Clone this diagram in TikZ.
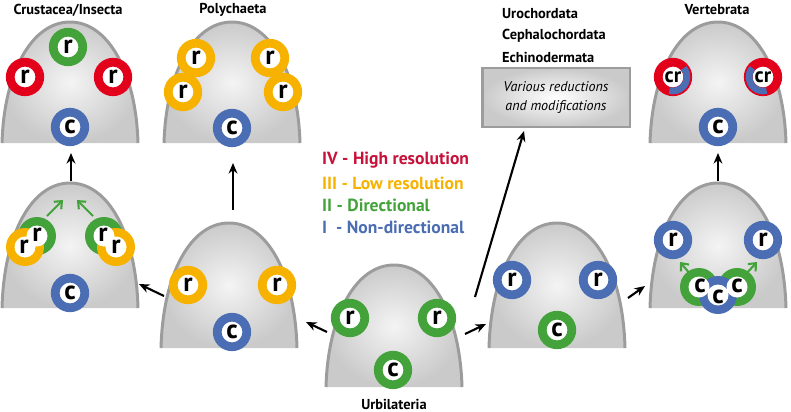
\documentclass[tikz,border=0pt]{standalone}
\usepackage{fontspec}
\setmainfont{PT Sans}
\usetikzlibrary{arrows.meta}

\definecolor{cred}{HTML}{E2001A}
\definecolor{cdred}{HTML}{C8103A}
\definecolor{cyellow}{HTML}{F7B200}
\definecolor{cgreen}{HTML}{43A33A}
\definecolor{cblue}{HTML}{4A6DB3}
\definecolor{domeline}{HTML}{9C9C9C}
\definecolor{domein}{HTML}{F4F4F4}
\definecolor{domeout}{HTML}{CACACA}

% outline of one body: centre x, apex y, bottom y (pixel units)
\newcommand{\domepath}[3]{({#1-68},#3) .. controls ({#1-66},{#2+50}) and ({#1-38},#2) .. (#1,#2) .. controls ({#1+38},#2) and ({#1+66},{#2+50}) .. ({#1+68},#3)}

\tikzset{
  sense/.style={circle, draw=#1, fill=white, line width=5pt, minimum size=0.59cm,
    inner sep=0pt, font=\fontsize{15}{15}\selectfont\bfseries},
  letter/.style={inner sep=0pt, font=\fontsize{15}{15}\selectfont\bfseries},
  taxon/.style={font=\fontsize{8.2}{10}\selectfont\bfseries},
  legend/.style={anchor=west, font=\fontsize{10}{12}\selectfont\bfseries},
  evo/.style={-{Stealth[length=6pt,width=5pt]}, line width=1.2pt},
  turn/.style={-{Straight Barb[length=3.5pt,width=6pt]}, cgreen, line width=1.2pt},
}

\begin{document}
\begin{tikzpicture}[x=0.02cm, y=-0.02cm]
  \useasboundingbox (0,0) rectangle (791,412);

  % bodies
  \foreach \cx/\ap/\bt in {70/22/143, 232/22/143, 70/183/308, 229/223/348,
                          394/265/387, 557/223/348, 718/183/308, 718/22/143} {
    \shade[inner color=domein, outer color=domeout] \domepath{\cx}{\ap}{\bt} -- cycle;
    \draw[domeline, line width=1.7pt] \domepath{\cx}{\ap}{\bt};
  }

  % Crustacea/Insecta
  \node[taxon] (crus) at (68,10) {Crustacea/Insecta};
  \node[sense=cgreen] (crusr) at (68,47) {r};
  \node[sense=cred] (crusrl) at (25,77) {r};
  \node[sense=cred] (crusrr) at (113,77) {r};
  \node[sense=cblue] (crusc) at (70,127) {c};

  % Polychaeta
  \node[taxon] (poly) at (233,10) {Polychaeta};
  \node[sense=cyellow] (polyra) at (196,58) {r};
  \node[sense=cyellow] (polyrb) at (183,92) {r};
  \node[sense=cyellow] (polyrc) at (270,58) {r};
  \node[sense=cyellow] (polyrd) at (283,92) {r};
  \node[sense=cblue] (polyc) at (232,128) {c};

  % intermediate Crustacea/Insecta
  \fill[cgreen] (37,236) circle (19);
  \fill[cgreen] (104,236) circle (19);
  \fill[cyellow] (25,247) circle (19);
  \fill[cyellow] (116,247) circle (19);
  \fill[white] (37,236) circle (10.5) (25,247) circle (10.5)
               (104,236) circle (10.5) (116,247) circle (10.5);
  \node[letter] (midrlg) at (37,235) {r};
  \node[letter] (midrly) at (24,247) {r};
  \node[letter] (midrrg) at (103,235) {r};
  \node[letter] (midrry) at (116,247) {r};
  \coordinate (turnla) at (47,216);
  \coordinate (turnlb) at (63,200);
  \coordinate (turnra) at (93,216);
  \coordinate (turnrb) at (77,200);
  \draw[turn] (turnla) -- (turnlb);
  \draw[turn] (turnra) -- (turnrb);
  \node[sense=cblue] (midc) at (70,293) {c};

  % intermediate Polychaeta
  \node[sense=cyellow] (prer) at (188,285) {r};
  \node[sense=cyellow] (prerr) at (277,285) {r};
  \node[sense=cblue] (prec) at (232,332) {c};

  % Urbilateria
  \node[sense=cgreen] (urbr) at (350,318) {r};
  \node[sense=cgreen] (urbrr) at (437,318) {r};
  \node[sense=cgreen] (urbc) at (393,370) {c};
  \node[taxon] (urb) at (394,404) {Urbilateria};

  % deuterostome ancestor
  \node[sense=cblue] (deur) at (512,280) {r};
  \node[sense=cblue] (deurr) at (598,280) {r};
  \node[sense=cgreen] (deuc) at (557,330) {c};

  % intermediate Vertebrata
  \node[sense=cblue] (verr) at (673,240) {r};
  \node[sense=cblue] (verrr) at (763,240) {r};
  \fill[cgreen] (699,287) circle (19);
  \fill[cgreen] (737,287) circle (19);
  \fill[cblue] (718,295) circle (19);
  \fill[white] (699,287) circle (10.5) (737,287) circle (10.5) (718,295) circle (10.5);
  \node[letter] (vercl) at (700,286) {c};
  \node[letter] (vercm) at (718,297) {c};
  \node[letter] (vercr) at (737,286) {c};
  \coordinate (vturnla) at (691,275);
  \coordinate (vturnlb) at (680,262);
  \coordinate (vturnra) at (745,275);
  \coordinate (vturnrb) at (757,262);
  \draw[turn] (vturnla) -- (vturnlb);
  \draw[turn] (vturnra) -- (vturnrb);

  % Vertebrata
  \node[taxon] (vert) at (717,10) {Vertebrata};
  \node[sense=cred] (vertl) at (673,77) {};
  \node[sense=cred] (vertr) at (763,77) {};
  \draw[cblue, line width=3.8pt] (vertl.center) +(40:0.28cm) arc[start angle=40, end angle=-105, radius=0.28cm];
  \draw[cblue, line width=3.8pt] (vertr.center) +(140:0.28cm) arc[start angle=140, end angle=285, radius=0.28cm];
  \node[letter, font=\fontsize{12}{12}\selectfont\bfseries] (vertlt) at (vertl) {cr};
  \node[letter, font=\fontsize{12}{12}\selectfont\bfseries] (vertrt) at (vertr) {cr};
  \node[sense=cblue] (vertc) at (718,127) {c};

  % other deuterostomes
  \node[taxon, anchor=west] (uro) at (496,14) {Urochordata};
  \node[taxon, anchor=west] (cep) at (496,36) {Cephalochordata};
  \node[taxon, anchor=west] (ech) at (496,57) {Echinodermata};
  \node[draw=domeline, line width=1.7pt, inner color=white, outer color=domeout,
        minimum width=2.96cm, minimum height=1.18cm, align=center,
        font=\fontsize{8}{10.8}\selectfont\itshape] (reduc) at (556,97.5)
        {Various reductions\\and modifications};

  % legend
  \node[legend, cdred] (lfour) at (316,160) {IV - High resolution};
  \node[legend, cyellow] (lthree) at (316,183) {III - Low resolution};
  \node[legend, cgreen] (ltwo) at (316,205) {II - Directional};
  \node[legend, cblue] (lone) at (316,227) {I \ - Non-directional};

  % evolutionary arrows
  \coordinate (crusin) at (71,153);
  \coordinate (midout) at (71,181);
  \coordinate (polyin) at (233,163);
  \coordinate (preout) at (233,210);
  \coordinate (midin) at (139,284);
  \coordinate (preoutl) at (164,296);
  \coordinate (prein) at (306,322);
  \coordinate (urbl) at (327,332);
  \coordinate (urbr2) at (465,334);
  \coordinate (deuin) at (486,324);
  \coordinate (urbup) at (475,297);
  \coordinate (reducin) at (524,131);
  \coordinate (deuout) at (628,298);
  \coordinate (verin) at (645,286);
  \coordinate (verout) at (718,181);
  \coordinate (vertin) at (718,153);
  \draw[evo] (midout) -- (crusin);
  \draw[evo] (preout) -- (polyin);
  \draw[evo] (preoutl) -- (midin);
  \draw[evo] (urbl) -- (prein);
  \draw[evo] (urbr2) -- (deuin);
  \draw[evo] (urbup) -- (reducin);
  \draw[evo] (deuout) -- (verin);
  \draw[evo] (verout) -- (vertin);
\end{tikzpicture}
\end{document}
